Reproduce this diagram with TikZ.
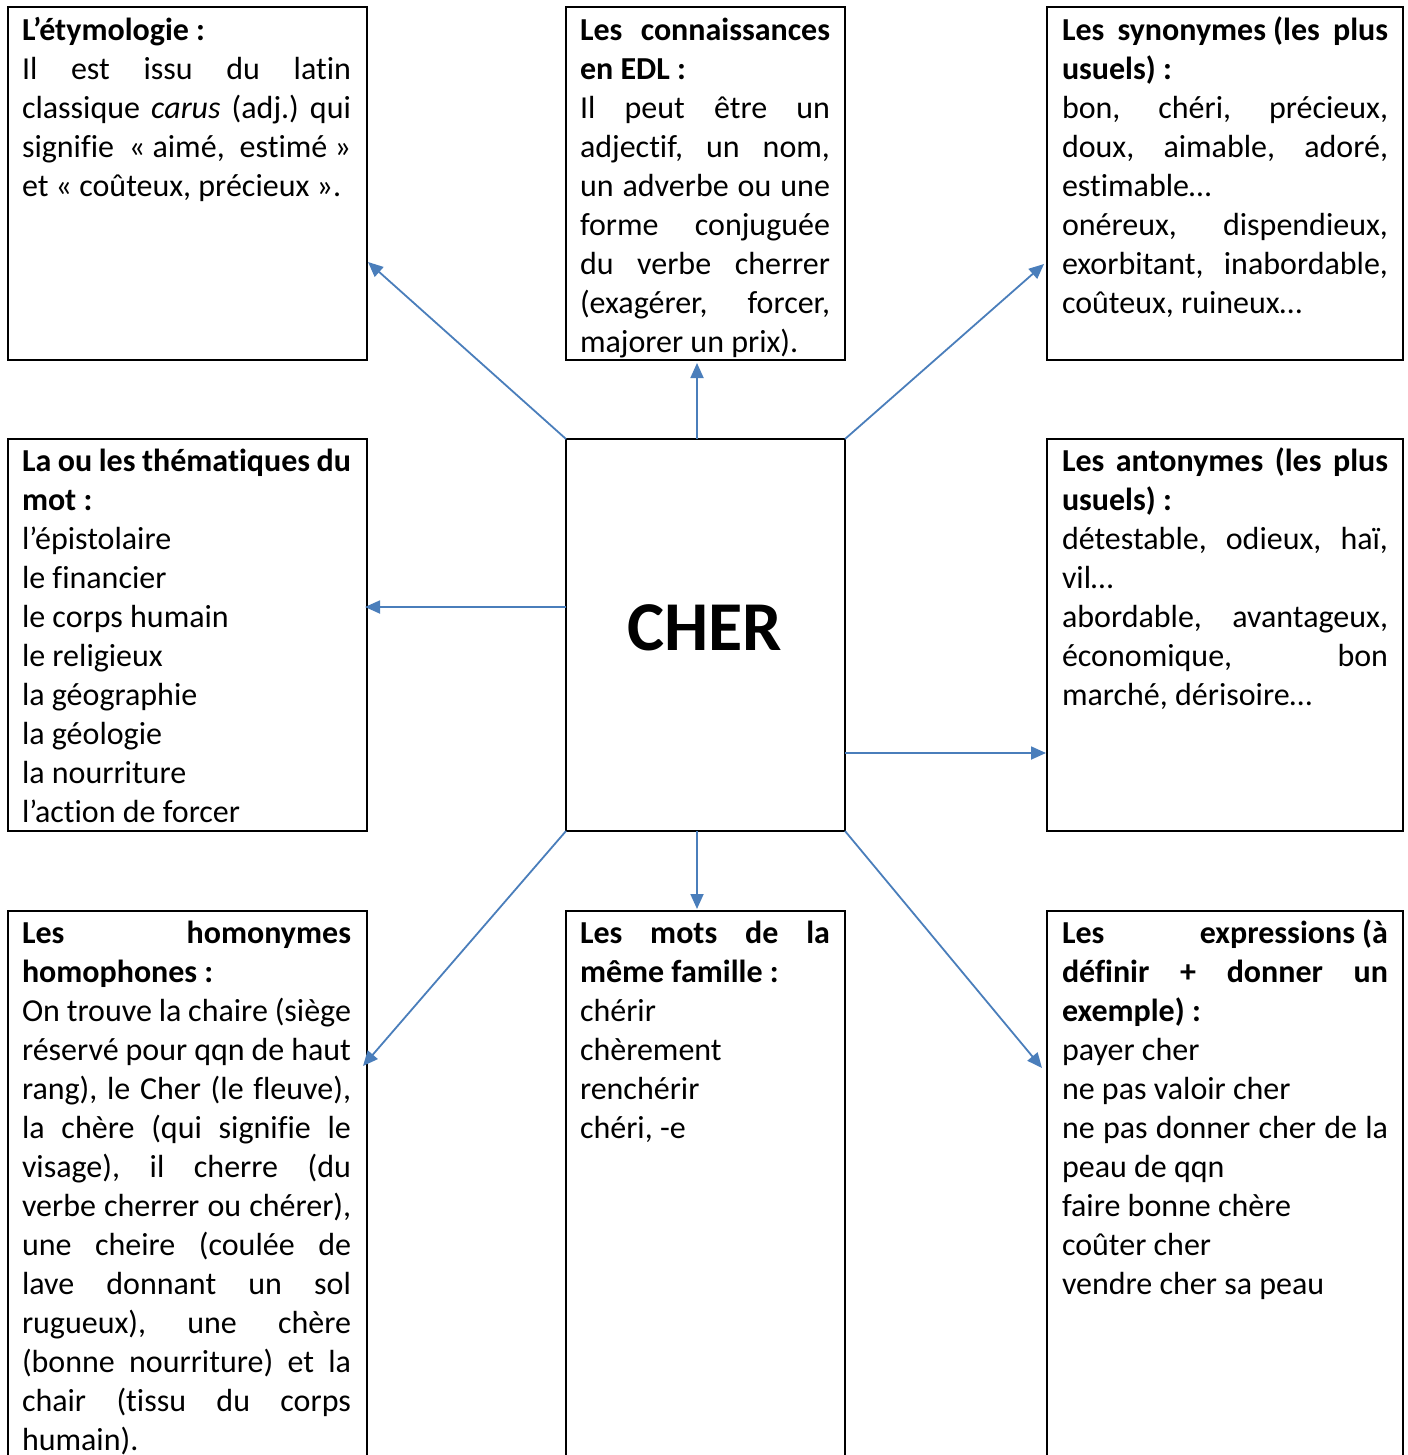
\documentclass[tikz,border=0pt]{standalone}
\usepackage{fontspec}
\setmainfont{Carlito}[Ligatures=CommonOff]
\usetikzlibrary{arrows.meta}
\definecolor{arrowblue}{RGB}{74,126,187}
\newcommand{\ouv}{«\kern.226em}
\newcommand{\fer}{\kern.226em»}
\newcommand{\fsp}{\kern.226em}
\begin{document}
\setlength{\parindent}{0pt}
\setlength{\parskip}{0pt}
\tolerance=10000 \hbadness=10000 \hyphenpenalty=10000 \exhyphenpenalty=10000
\frenchspacing
\begin{tikzpicture}[x=1pt,y=-1pt,
  boxstyle/.style={draw, line width=2pt, inner sep=0pt, outer sep=0pt, anchor=north west},
  txt/.style={anchor=north west, inner sep=0pt, outer sep=0pt, align=justify,
    font=\fontsize{32}{39}\selectfont},
  arr/.style={draw=arrowblue, line width=1.8pt, -{Triangle[length=15pt,width=13pt]}}]
\useasboundingbox (0,0) rectangle (1407,1455);
\clip (0,0) rectangle (1407,1455);
% boxes
\node[boxstyle, minimum width=359pt, minimum height=353pt] (tl) at (8,7) {};
\node[boxstyle, minimum width=279pt, minimum height=353pt] (tm) at (566,7) {};
\node[boxstyle, minimum width=356pt, minimum height=353pt] (tr) at (1047,7) {};
\node[boxstyle, minimum width=359pt, minimum height=392pt] (ml) at (8,439) {};
\node[boxstyle, minimum width=279pt, minimum height=392pt] (c) at (566,439) {};
\node[boxstyle, minimum width=356pt, minimum height=392pt] (mr) at (1047,439) {};
\node[boxstyle, minimum width=359pt, minimum height=600pt] (bl) at (8,911) {};
\node[boxstyle, minimum width=279pt, minimum height=600pt] (bm) at (566,911) {};
\node[boxstyle, minimum width=356pt, minimum height=600pt] (br) at (1047,911) {};
% texts
\node[txt, text width=329pt] (ttl) at (22,12.8) {\strut\textbf{L’étymologie~:}\par
Il est issu du latin\linebreak classique \textit{carus} (adj.) qui\linebreak signifie \ouv aimé, estimé\fer\linebreak et \ouv coûteux, précieux\fer.};
\node[txt, text width=250pt] (ttm) at (580,12.8) {\strut\textbf{Les connaissances\linebreak en EDL~:}\par
Il peut être un\linebreak adjectif, un nom,\linebreak un adverbe ou une\linebreak forme conjuguée\linebreak du verbe cherrer\linebreak (exagérer, forcer,\linebreak majorer un prix).};
\node[txt, text width=326pt] (ttr) at (1062,12.8) {\strut\textbf{Les synonymes\fsp(les plus\linebreak usuels)~:}\par
bon, chéri, précieux,\linebreak doux, aimable, adoré,\linebreak estimable…\par
onéreux, dispendieux,\linebreak exorbitant, inabordable,\linebreak coûteux, ruineux…};
\node[txt, text width=329pt] (tml) at (22,444.2) {\strut\textbf{La ou les thématiques du\linebreak mot~:}\par
l’épistolaire\par le financier\par le corps humain\par le religieux\par la géographie\par la géologie\par la nourriture\par l’action de forcer};
\node[txt, text width=326pt] (tmr) at (1062,444.2) {\strut\textbf{Les antonymes (les plus\linebreak usuels)~:}\par
détestable, odieux, haï,\linebreak vil…\par
abordable, avantageux,\linebreak économique, bon\linebreak marché, dérisoire…};
\node[txt, text width=329pt] (tbl) at (22,916.2) {\strut\textbf{Les homonymes\linebreak homophones~:}\par
On trouve la chaire (siège\linebreak réservé pour qqn de haut\linebreak rang), le Cher (le fleuve),\linebreak la chère (qui signifie le\linebreak visage), il cherre (du\linebreak verbe cherrer ou chérer),\linebreak une cheire (coulée de\linebreak lave donnant un sol\linebreak rugueux), une chère\linebreak (bonne nourriture) et la\linebreak chair (tissu du corps\linebreak humain).};
\node[txt, text width=250pt] (tbm) at (580,916.2) {\strut\textbf{Les mots de la\linebreak même famille~:}\par
chérir\par chèrement\par renchérir\par chéri, -e};
\node[txt, text width=326pt] (tbr) at (1062,916.2) {\strut\textbf{Les expressions\fsp(à\linebreak définir + donner un\linebreak exemple)~:}\par
payer cher\par ne pas valoir cher\par ne pas donner cher de la\linebreak peau de qqn\par faire bonne chère\par coûter cher\par vendre cher sa peau};
\node[anchor=base, inner sep=0pt, font=\fontsize{70}{80}\selectfont\bfseries] (cher) at (705,650) {CHER};
% arrow end points
\coordinate (ptl) at (368,262);
\coordinate (cup) at (697,439); \coordinate (pup) at (697,363);
\coordinate (ptr) at (1044,264);
\coordinate (cl) at (566,607); \coordinate (pl) at (365,607);
\coordinate (cr) at (845,753); \coordinate (pr) at (1046,753);
\coordinate (cdn) at (697,831); \coordinate (pdn) at (697,909);
\coordinate (pbl) at (363,1066);
\coordinate (pbr) at (1042,1068);
% arrows
\draw[arr] (c.north west) -- (ptl);
\draw[arr] (cup) -- (pup);
\draw[arr] (c.north east) -- (ptr);
\draw[arr] (cl) -- (pl);
\draw[arr] (cr) -- (pr);
\draw[arr] (cdn) -- (pdn);
\draw[arr] (c.south west) -- (pbl);
\draw[arr] (c.south east) -- (pbr);
\end{tikzpicture}
\end{document}
